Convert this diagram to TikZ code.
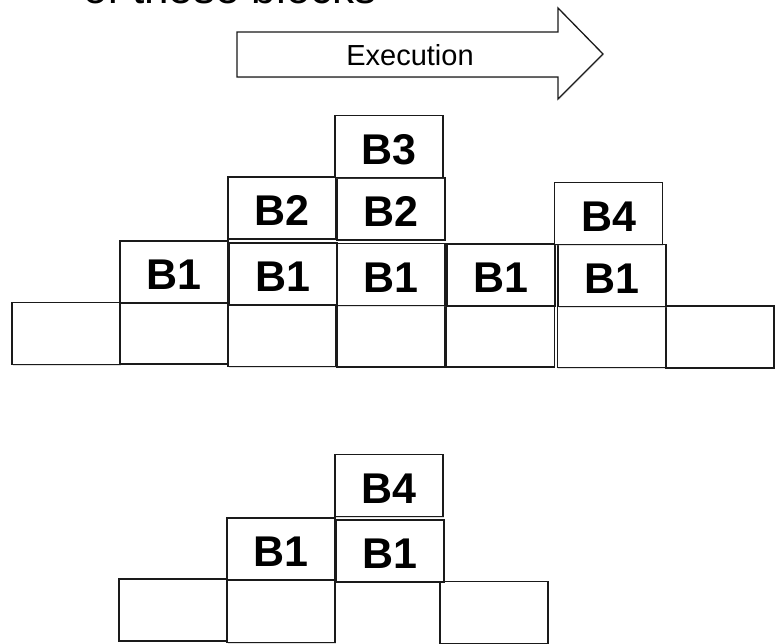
\documentclass[tikz,border=0pt]{standalone}
\usepackage{fontspec}
\setmainfont{Liberation Sans}
\usetikzlibrary{shadows}
\definecolor{edge}{HTML}{1A1A1A}
\tikzset{
  cell/.style={draw=edge, line width=1.3pt, fill=white, minimum width=108pt, minimum height=62pt,
    inner sep=0pt, text height=35pt, text depth=0pt, font=\fontsize{43}{43}\bfseries\selectfont,
    drop shadow={shadow xshift=0.6pt, shadow yshift=-1.2pt, opacity=0.25}},
  arrowshape/.style={draw=edge, line width=1.3pt, fill=white, line join=miter,
    drop shadow={shadow xshift=0.6pt, shadow yshift=-1.2pt, opacity=0.25}},
}
\begin{document}
\begin{tikzpicture}[x=1pt, y=-1pt]
\useasboundingbox (0,0) rectangle (775,643);
\clip (0,0) rectangle (775,643);
\fill[white] (0,0) rectangle (775,643);
% cut-off heading
\node[anchor=base west, inner sep=0pt, font=\fontsize{44}{44}\selectfont] (head) at (83,3) {of these blocks};
% execution arrow
\path[arrowshape] (237,32) -- (558,32) -- (558,8) -- (603,54) -- (558,99) -- (558,77) -- (237,77) -- cycle;
\node[font=\fontsize{29}{29}\selectfont] (exec) at (410,55.5) {Execution};
% top section: bottom row
\node[cell] (c1) at (66,333.5) {};
\node[cell] (c2) at (174,333) {};
\node[cell] (c3) at (282,335.5) {};
\node[cell] (c4) at (391,336) {};
\node[cell] (c5) at (500.5,336) {};
\node[cell] (c6) at (611.5,336.5) {};
\node[cell] (c7) at (720,337) {};
% B1 row
\node[cell] (a1) at (174,272) {B1};
\node[cell] (a2) at (283,274) {B1};
\node[cell] (a3) at (391,274.5) {B1};
\node[cell] (a4) at (501,275) {B1};
\node[cell] (a5) at (612,275.5) {B1};
% B2 / B4 row
\node[cell] (b1) at (282,208) {B2};
\node[cell] (b2) at (391,209) {B2};
\node[cell] (b4) at (608.5,213.5) {B4};
% B3
\node[cell] (b3) at (389,146.5) {B3};
% bottom section
\node[cell] (d1) at (173,610) {};
\node[cell] (d2) at (281,611.5) {};
\node[cell] (d4) at (494,612.5) {};
\node[cell] (e1) at (281,549) {B1};
\node[cell] (e2) at (390,551) {B1};
\node[cell] (e4) at (389,485.5) {B4};
\end{tikzpicture}
\end{document}
